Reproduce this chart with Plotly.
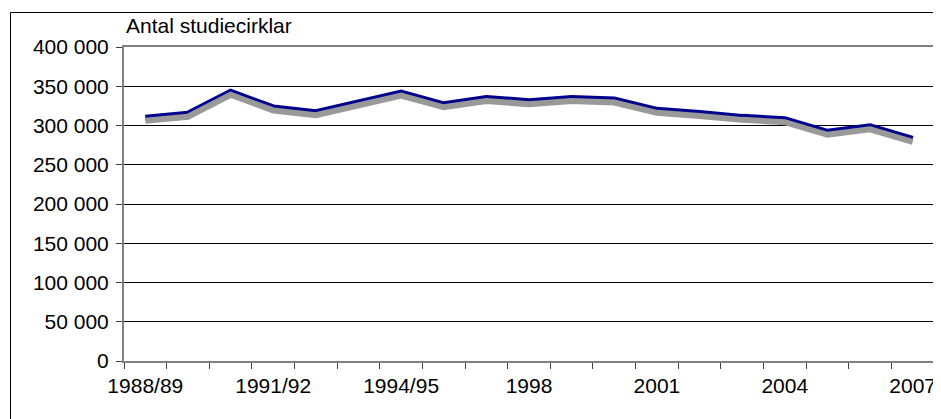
import plotly.graph_objects as go

categories = ["1988/89", "1989/90", "1990/91", "1991/92", "1992/93", "1993/94",
              "1994/95", "1995/96", "1997", "1998", "1999", "2000", "2001",
              "2002", "2003", "2004", "2005", "2006", "2007"]
values = [310000, 315000, 343000, 323000, 317000, 330000, 342000, 327000, 335000,
          331000, 335000, 333000, 320000, 316000, 311000, 308000, 292000, 299000, 283000]
shown_labels = ["1988/89", "1991/92", "1994/95", "1998", "2001", "2004", "2007"]
y_ticks = [0, 50000, 100000, 150000, 200000, 250000, 300000, 350000, 400000]
y_tick_text = ["0", "50 000", "100 000", "150 000", "200 000", "250 000",
               "300 000", "350 000", "400 000"]
title_text = "Antal studiecirklar"

# page body has an 8px margin; size the figure to the visible area
OFF = 8
W, H = 941 - OFF, 419 - OFF
L, R, T, B = 124 - OFF, 7, 47 - OFF, 58
pw, ph = W - L - R, H - T - B
y_max = 400000
shadow_px = 3
shadow_shift = shadow_px * y_max / ph

font = dict(family="Liberation Sans, Arial, sans-serif", size=21, color="black")

fig = go.Figure()
# shadow
fig.add_trace(go.Scatter(x=categories, y=values, mode="lines", yaxis="y2",
                         line=dict(color="#999999", width=6), hoverinfo="skip",
                         showlegend=False))
# main line
fig.add_trace(go.Scatter(x=categories, y=values, mode="lines",
                         line=dict(color="#00008f", width=6), showlegend=False))

fig.update_layout(
    width=W, height=H,
    margin=dict(l=L, r=R, t=T, b=B, pad=0, autoexpand=False),
    paper_bgcolor="white", plot_bgcolor="white",
    font=font,
    xaxis=dict(type="category", categoryorder="array", categoryarray=categories,
               tickmode="array", tickvals=categories,
               ticktext=[c if c in shown_labels else "" for c in categories],
               tickson="boundaries", ticks="outside", ticklen=6, tickwidth=1,
               tickcolor="#404040", showgrid=False, zeroline=False,
               showline=True, linecolor="#808080", linewidth=2, mirror=True,
               tickangle=0, ticklabelstandoff=5, automargin=False,
               range=[-0.5, len(categories) - 0.5]),
    yaxis=dict(range=[0, y_max], tickmode="array", tickvals=y_ticks,
               ticktext=y_tick_text, ticks="outside", ticklen=6, tickwidth=1,
               tickcolor="#404040", showgrid=True, gridcolor="black", gridwidth=1,
               zeroline=False, showline=True, linecolor="#808080", linewidth=2,
               mirror=True, ticklabelstandoff=3, automargin=False),
    yaxis2=dict(range=[shadow_shift, y_max + shadow_shift], overlaying="y",
                visible=False, fixedrange=True),
    annotations=[dict(text=title_text, x=0, y=(ph + 22) / ph, xref="paper", yref="paper",
                      xanchor="left", yanchor="middle", showarrow=False, font=font)],
    shapes=[dict(type="rect", xref="paper", yref="paper",
                 x0=(10.5 - OFF - L) / pw, x1=(W + 5 - L) / pw,
                 y0=-(B + 5) / ph, y1=(ph + T - (12.5 - OFF)) / ph,
                 line=dict(color="black", width=1), layer="below")],
)

fig.write_html("out.html")
